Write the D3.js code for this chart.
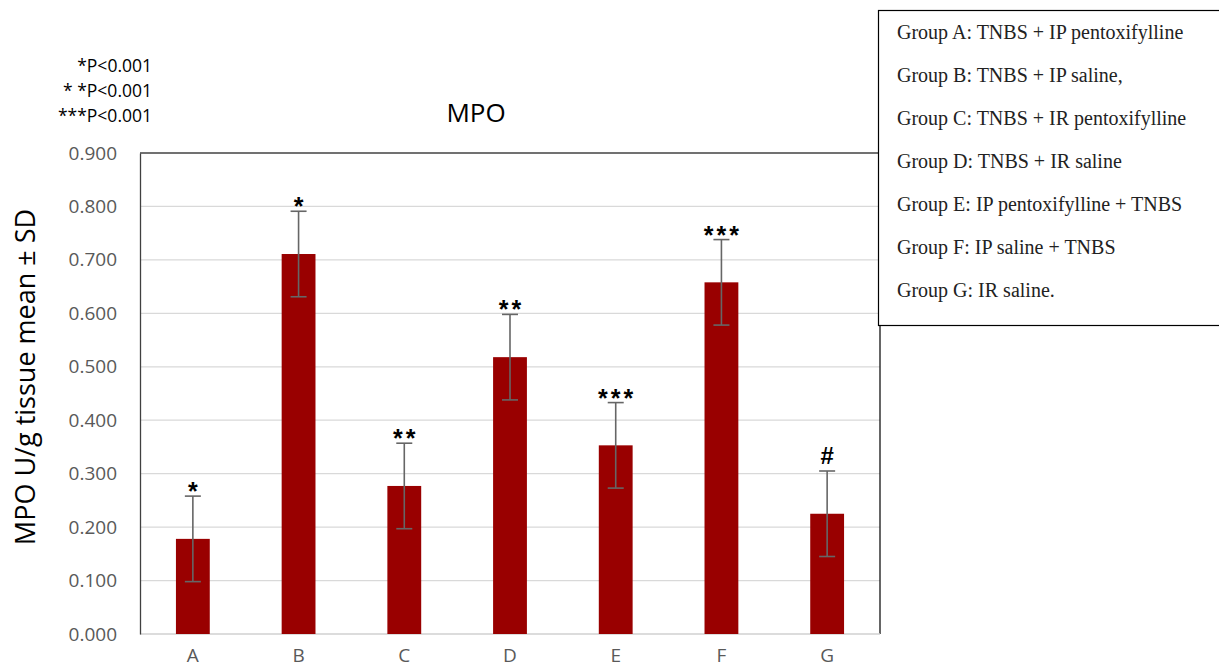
<!DOCTYPE html>
<html>
<head>
<meta charset="utf-8">
<script src="https://cdn.jsdelivr.net/npm/d3@7"></script>
<style>
  html, body { margin: 0; padding: 0; background: #fff; }
  svg { display: block; }
</style>
</head>
<body>
<svg id="chart" width="1219" height="670"></svg>
<script>
// MPO activity per group (mean ± SD)
const groups = ["A", "B", "C", "D", "E", "F", "G"];
const means = [0.178, 0.711, 0.277, 0.518, 0.353, 0.658, 0.225];
const sds = [0.08, 0.08, 0.08, 0.08, 0.08, 0.08, 0.08];
const marks = ["*", "*", "**", "**", "***", "***", "#"];
const yTicks = [0, 0.1, 0.2, 0.3, 0.4, 0.5, 0.6, 0.7, 0.8, 0.9];
const legendLines = [
  "Group A: TNBS + IP pentoxifylline",
  "Group B: TNBS + IP saline,",
  "Group C: TNBS + IR pentoxifylline",
  "Group D: TNBS + IR saline",
  "Group E: IP pentoxifylline + TNBS",
  "Group F: IP saline + TNBS",
  "Group G: IR saline."
];
const pNotes = ["*P<0.001", "* *P<0.001", "***P<0.001"];

const svg = d3.select("#chart");
const sansFont = "'Open Sans', 'Liberation Sans', sans-serif";
const plot = { left: 140, right: 880, top: 153, bottom: 634 };

const x = d3.scaleBand()
  .domain(groups)
  .range([plot.left, plot.right])
  .paddingInner(0.68)
  .paddingOuter(0.34);

const y = d3.scaleLinear()
  .domain([0, 0.9])
  .range([plot.bottom, plot.top]);

// horizontal gridlines
svg.append("g")
  .selectAll("line")
  .data(yTicks.slice(1))
  .join("line")
  .attr("x1", plot.left)
  .attr("x2", plot.right)
  .attr("y1", d => y(d))
  .attr("y2", d => y(d))
  .attr("stroke", "#d9d9d9")
  .attr("stroke-width", 1.3);

// plot frame: top and right borders
svg.append("path")
  .attr("d", `M${plot.left},${plot.top}H${plot.right}V${plot.bottom}`)
  .attr("fill", "none")
  .attr("stroke", "#000")
  .attr("stroke-width", 1.2);

// baseline
svg.append("line")
  .attr("x1", plot.left).attr("x2", plot.right)
  .attr("y1", y(0)).attr("y2", y(0))
  .attr("stroke", "#d0d0d0").attr("stroke-width", 1.5);

// y axis
const yAxis = d3.axisLeft(y)
  .tickValues(yTicks)
  .tickFormat(d3.format(".3f"))
  .tickSize(0)
  .tickPadding(23);
const yg = svg.append("g")
  .attr("transform", `translate(${plot.left},0)`)
  .call(yAxis);
yg.select(".domain").attr("stroke", "#404040").attr("stroke-width", 1.3);
yg.selectAll("text")
  .attr("fill", "#595959")
  .style("font-family", sansFont)
  .style("font-size", "19px");

// x axis labels
const xAxis = d3.axisBottom(x).tickSize(0).tickPadding(15);
const xg = svg.append("g")
  .attr("transform", `translate(0,${plot.bottom})`)
  .call(xAxis);
xg.select(".domain").remove();
xg.selectAll("text")
  .attr("fill", "#595959")
  .style("font-family", sansFont)
  .style("font-size", "19px");

// bars
svg.append("g")
  .selectAll("rect")
  .data(groups)
  .join("rect")
  .attr("x", d => x(d))
  .attr("width", x.bandwidth())
  .attr("y", (d, i) => y(means[i]))
  .attr("height", (d, i) => y(0) - y(means[i]))
  .attr("fill", "#990000");

// error bars
const err = svg.append("g").attr("stroke", "#666").attr("stroke-width", 1.6);
groups.forEach((g, i) => {
  const cx = x(g) + x.bandwidth() / 2;
  const hi = y(means[i] + sds[i]);
  const lo = y(means[i] - sds[i]);
  err.append("line").attr("x1", cx).attr("x2", cx).attr("y1", hi).attr("y2", lo);
  err.append("line").attr("x1", cx - 8).attr("x2", cx + 8).attr("y1", hi).attr("y2", hi);
  err.append("line").attr("x1", cx - 8).attr("x2", cx + 8).attr("y1", lo).attr("y2", lo);
});

// significance marks above the error bars
const markSpacing = 3;
svg.append("g")
  .selectAll("text")
  .data(groups)
  .join("text")
  .attr("x", d => x(d) + x.bandwidth() / 2 + markSpacing / 2)
  .attr("y", (d, i) => y(means[i] + sds[i]) + (marks[i] === "#" ? -7 : 4))
  .attr("text-anchor", "middle")
  .attr("fill", "#000")
  .style("font-family", "'Liberation Sans', sans-serif")
  .style("font-weight", "bold")
  .style("font-size", (d, i) => marks[i] === "#" ? "24px" : "25px")
  .style("letter-spacing", markSpacing + "px")
  .text((d, i) => marks[i]);

// chart title
svg.append("text")
  .attr("x", 476).attr("y", 122)
  .attr("text-anchor", "middle")
  .style("font-family", sansFont)
  .style("font-size", "26px")
  .attr("fill", "#000")
  .text("MPO");

// y axis title
svg.append("text")
  .attr("transform", "translate(35,377) rotate(-90)")
  .attr("text-anchor", "middle")
  .style("font-family", sansFont)
  .style("font-size", "27px")
  .attr("fill", "#000")
  .text("MPO U/g tissue mean ± SD");

// p-value notes
svg.append("g")
  .selectAll("text")
  .data(pNotes)
  .join("text")
  .attr("x", 152)
  .attr("y", (d, i) => 72 + i * 25)
  .attr("text-anchor", "end")
  .style("font-family", sansFont)
  .style("font-size", "17.5px")
  .attr("fill", "#000")
  .text(d => d);

// group legend box
svg.append("rect")
  .attr("x", 878.5).attr("y", 10.5)
  .attr("width", 345).attr("height", 315)
  .attr("fill", "#fff")
  .attr("stroke", "#000")
  .attr("stroke-width", 1.2);

svg.append("g")
  .selectAll("text")
  .data(legendLines)
  .join("text")
  .attr("x", 897)
  .attr("y", (d, i) => 39 + i * 43)
  .style("font-family", "'Liberation Serif', 'Times New Roman', serif")
  .style("font-size", "20px")
  .attr("fill", "#222")
  .text(d => d);
</script>
</body>
</html>
